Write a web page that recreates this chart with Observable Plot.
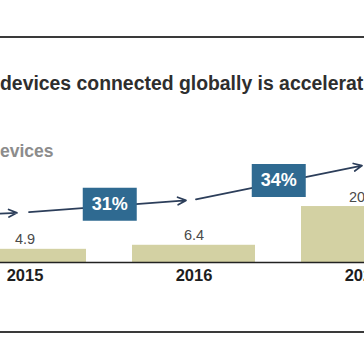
<!DOCTYPE html>
<html><head><meta charset="utf-8">
<script src="https://cdn.jsdelivr.net/npm/d3@7"></script>
<script src="https://cdn.jsdelivr.net/npm/@observablehq/plot@0.6"></script>
<style>
body{margin:0;background:#fff;}
#wrap{position:relative;width:364px;height:364px;overflow:hidden;background:#fff;font-family:"Liberation Sans",Arial,sans-serif;}
.rule{position:absolute;left:0;width:364px;height:2px;background:#3a3a3a;}
#title{position:absolute;left:0;top:73.5px;font-size:19.4px;line-height:19.4px;font-weight:bold;color:#2e2e2e;white-space:nowrap;}
#subtitle{position:absolute;left:-10.7px;top:143px;font-size:17.5px;line-height:17.5px;font-weight:bold;color:#8c8c8c;white-space:nowrap;}
#chart{position:absolute;left:0;top:140px;width:364px;}
</style></head><body>
<div id="wrap">
<div class="rule" style="top:35.5px"></div>
<div id="title">devices connected globally is accelerating</div>
<div id="subtitle">devices</div>
<div id="chart"></div>
<div class="rule" style="top:330.5px"></div>
</div>
<script>
const years = ["2014", "2015", "2016", "2020"];
const barYears = ["2015", "2016", "2020"];
const barValues = [4.9, 6.4, 20.8];
const arrowLevels = [15.5, 18.6, 23.3, 36.1];
const growthFrom = ["2015", "2016"];
const growthLabels = ["31%", "34%"];

const bars = barYears.map((year, i) => ({year, value: barValues[i]}));
const level = new Map(years.map((y, i) => [y, arrowLevels[i]]));
const arrows = years.slice(1).map((to, i) => ({from: years[i], to, y1: arrowLevels[i], y2: arrowLevels[i + 1]}));
const growth = growthFrom.map((from, i) => {
  const to = years[years.indexOf(from) + 1];
  return {from, label: growthLabels[i], y: (level.get(from) + level.get(to)) / 2};
});

const box = {draw(ctx) { ctx.rect(-27, -16.5, 54, 33); }};
const arrowStyle = {x1: "from", x2: "to", y1: "y1", y2: "y2", stroke: "#2c3e5a", strokeWidth: 1.7, headLength: 8, headAngle: 50};

const chart = Plot.plot({
  width: 364, height: 160, marginTop: 0, marginLeft: 0, marginRight: 0, marginBottom: 38,
  style: {fontFamily: "Liberation Sans, Arial, sans-serif", background: "transparent"},
  x: {type: "band", domain: years, range: [-230.25, 447.75], paddingInner: 0.27, paddingOuter: 0.135, align: 0.5, axis: null},
  y: {domain: [0, 45.35], axis: null},
  marks: [
    Plot.barY(bars, {x: "year", y: "value", fill: "#d3d1a3"}),
    Plot.ruleY([0], {stroke: "#222", strokeWidth: 1.5}),
    Plot.text(bars, {x: "year", y: "value", text: d => d.value.toFixed(1), dy: -9.5, fontSize: 14.5, fill: "#4a4a4a"}),
    Plot.axisX({tickSize: 0, tickPadding: 7, fontSize: 16.5, fontWeight: "bold", color: "#1e1e1e"}),
    Plot.arrow(arrows.slice(0, 2), {...arrowStyle, insetStart: 4, insetEnd: 8}),
    Plot.arrow(arrows.slice(2), {...arrowStyle, insetStart: 2, insetEnd: 1}),
    Plot.dot(growth, {x: "from", y: "y", dx: 84.75, dy: -2, symbol: box, r: 10, fill: "#2f6a91"}),
    Plot.text(growth, {x: "from", y: "y", text: "label", dx: 84.75, dy: -2, fill: "white", fontWeight: "bold", fontSize: 18})
  ]
});
document.getElementById("chart").appendChild(chart);
</script>
</body></html>
